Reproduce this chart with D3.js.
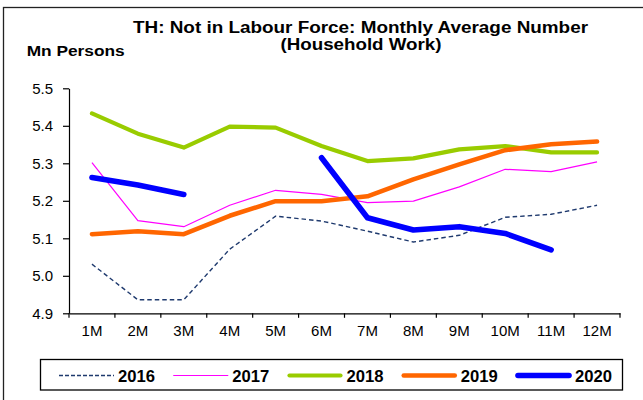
<!DOCTYPE html>
<html>
<head>
<meta charset="utf-8">
<script src="https://cdn.jsdelivr.net/npm/d3@7"></script>
<style>
  html, body { margin: 0; padding: 0; background: #fff; }
  svg { display: block; font-family: "Liberation Sans", Arial, sans-serif; }
</style>
</head>
<body>
<svg id="chart" width="643" height="400"></svg>
<script>
// Monthly categories and y-axis ticks
const months = ["1M","2M","3M","4M","5M","6M","7M","8M","9M","10M","11M","12M"];
const yTicks = [4.9, 5.0, 5.1, 5.2, 5.3, 5.4, 5.5];

// Not in labour force (household work), million persons, by year
const y2016 = [5.031, 4.936, 4.936, 5.071, 5.159, 5.146, 5.119, 5.090, 5.108, 5.156, 5.164, 5.188];
const y2017 = [5.302, 5.147, 5.131, 5.188, 5.228, 5.217, 5.195, 5.199, 5.237, 5.284, 5.278, 5.304];
const y2018 = [5.433, 5.379, 5.342, 5.398, 5.395, 5.346, 5.306, 5.313, 5.337, 5.346, 5.329, 5.329];
const y2019 = [5.111, 5.119, 5.111, 5.160, 5.199, 5.199, 5.212, 5.257, 5.297, 5.335, 5.351, 5.358];
const y2020 = [5.262, 5.242, 5.217, null, null, 5.315, 5.155, 5.122, 5.131, 5.113, 5.069, null];

const seriesNames = ["2016", "2017", "2018", "2019", "2020"];
const seriesValues = [y2016, y2017, y2018, y2019, y2020];

const styles = {
  "2016": { color: "#1F3A6E", width: 1.4, dash: "4.5,3", legendDash: "4,2", cap: "butt" },
  "2017": { color: "#FF00FF", width: 1.2, dash: null, legendDash: null, cap: "butt" },
  "2018": { color: "#99CC00", width: 4.2, dash: null, legendDash: null, cap: "round" },
  "2019": { color: "#FF6600", width: 4.6, dash: null, legendDash: null, cap: "round" },
  "2020": { color: "#0000FF", width: 5.6, dash: null, legendDash: null, cap: "round" }
};

const svg = d3.select("#chart");

// outer frame
svg.append("rect")
  .attr("x", 3.5).attr("y", 7.5)
  .attr("width", 660).attr("height", 420)
  .attr("fill", "none").attr("stroke", "#222").attr("stroke-width", 1.3);

// titles
svg.append("text")
  .attr("x", 360.5).attr("y", 32.7)
  .attr("text-anchor", "middle")
  .attr("font-size", 16).attr("font-weight", "bold")
  .attr("textLength", 455).attr("lengthAdjust", "spacingAndGlyphs")
  .text("TH: Not in Labour Force: Monthly Average Number");
svg.append("text")
  .attr("x", 361).attr("y", 49.5)
  .attr("text-anchor", "middle")
  .attr("font-size", 16).attr("font-weight", "bold")
  .attr("textLength", 161).attr("lengthAdjust", "spacingAndGlyphs")
  .text("(Household Work)");
svg.append("text")
  .attr("x", 26.7).attr("y", 56)
  .attr("font-size", 14).attr("font-weight", "bold")
  .attr("textLength", 98).attr("lengthAdjust", "spacingAndGlyphs")
  .text("Mn Persons");

// scales
const x = d3.scaleBand().domain(months).range([69, 620]).paddingInner(0).paddingOuter(0);
const y = d3.scaleLinear().domain([4.9, 5.5]).range([313.3, 88.3]);

// y axis
const yAxis = svg.append("g")
  .attr("transform", `translate(${x.range()[0]},0)`)
  .call(d3.axisLeft(y).tickValues(yTicks).tickFormat(d3.format(".1f"))
    .tickSizeInner(6).tickSizeOuter(0).tickPadding(10));
yAxis.selectAll("path, line").attr("stroke", "#000").attr("stroke-width", 1.2);
yAxis.selectAll("text").attr("font-size", 15).attr("fill", "#000")
  .attr("font-family", "'Liberation Sans', Arial, sans-serif");

// x axis: labels centred in bands, tick marks on band boundaries
const xAxis = svg.append("g")
  .attr("transform", `translate(0,${y(4.9)})`)
  .call(d3.axisBottom(x).tickSize(0).tickPadding(12));
xAxis.select("path").attr("stroke", "#000").attr("stroke-width", 1.2);
xAxis.selectAll("text").attr("font-size", 15).attr("fill", "#000")
  .attr("font-family", "'Liberation Sans', Arial, sans-serif");
const boundaries = months.map(m => x(m)).concat([x(months[months.length - 1]) + x.bandwidth()]);
xAxis.selectAll("line.bnd")
  .data(boundaries)
  .enter().append("line")
  .attr("class", "bnd")
  .attr("x1", d => d).attr("x2", d => d)
  .attr("y1", 0).attr("y2", 4.5)
  .attr("stroke", "#000").attr("stroke-width", 1.2);

// series lines
const line = d3.line()
  .defined(d => d.v != null)
  .x(d => x(d.m) + x.bandwidth() / 2)
  .y(d => y(d.v));

seriesNames.forEach((name, i) => {
  const st = styles[name];
  const pts = months.map((m, j) => ({ m, v: seriesValues[i][j] }));
  svg.append("path")
    .datum(pts)
    .attr("d", line)
    .attr("fill", "none")
    .attr("stroke", st.color)
    .attr("stroke-width", st.width)
    .attr("stroke-linecap", st.cap)
    .attr("stroke-linejoin", "round")
    .attr("stroke-dasharray", st.dash);
});

// legend
const legend = svg.append("g");
legend.append("rect")
  .attr("x", 40.5).attr("y", 359.5)
  .attr("width", 582).attr("height", 30.5)
  .attr("fill", "#fff").attr("stroke", "#000").attr("stroke-width", 1.3);

const legendX = d3.scalePoint().domain(seriesNames).range([59, 516]);
seriesNames.forEach(name => {
  const st = styles[name];
  const lx = legendX(name);
  legend.append("line")
    .attr("x1", lx + (st.cap === "round" ? 2 : 0)).attr("x2", lx + 55 - (st.cap === "round" ? 2 : 0))
    .attr("y1", 375.5).attr("y2", 375.5)
    .attr("stroke", st.color)
    .attr("stroke-width", st.width)
    .attr("stroke-linecap", st.cap)
    .attr("stroke-dasharray", st.legendDash);
  legend.append("text")
    .attr("x", lx + 59).attr("y", 381.5)
    .attr("font-size", 16.5).attr("font-weight", "bold")
    .attr("textLength", 37).attr("lengthAdjust", "spacingAndGlyphs")
    .text(name);
});
</script>
</body>
</html>
